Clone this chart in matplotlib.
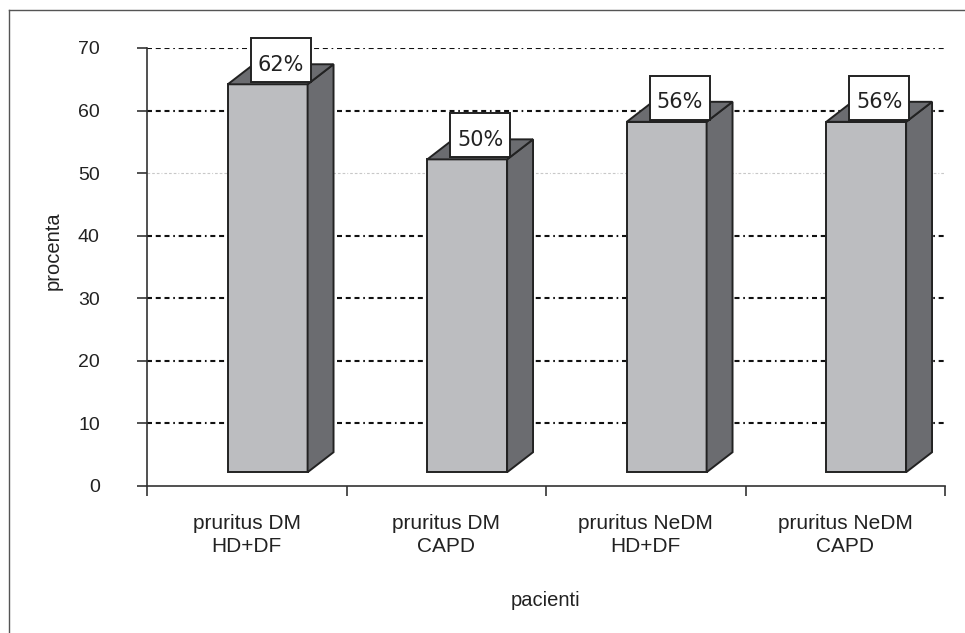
import matplotlib
matplotlib.use("Agg")
import matplotlib.pyplot as plt
import matplotlib.transforms as mtransforms
from matplotlib.patches import Polygon, Rectangle
from matplotlib.lines import Line2D

plt.rcParams['font.family'] = ['Liberation Sans', 'DejaVu Sans']

categories = ["pruritus DM\nHD+DF", "pruritus DM\nCAPD", "pruritus NeDM\nHD+DF", "pruritus NeDM\nCAPD"]
values = [62, 50, 56, 56]
labels = ["62%", "50%", "56%", "56%"]
yticks = [0, 10, 20, 30, 40, 50, 60, 70]

W, H = 965, 633
fig = plt.figure(figsize=(W / 100, H / 100), dpi=100)
ax = fig.add_axes([147 / W, 1 - 486 / H, (945 - 147) / W, (486 - 48) / H])
ax.set_xlim(-0.5, len(categories) - 0.5)
ax.set_ylim(0, 70)

front_col = "#bcbdc0"
side_col = "#6b6c70"
edge = "#222222"

# gridlines
dash = (0, (2.4, 1.8, 2.4, 1.8, 2.4, 1.8, 0.8, 1.8))
for t in yticks[1:]:
    col = "#c8c8c8" if t == 50 else "#111111"
    lw = 0.8 if t == 50 else 1.5
    ax.plot([-0.5, len(categories) - 0.5], [t, t], color=col, lw=lw,
            linestyle=dash, zorder=1, solid_capstyle='butt', dash_capstyle='butt')

base = 2.2
bw = 0.4
shift = 0.105
dx = 0.13
dy = 3.2
for i, v in enumerate(values):
    x0 = i + shift - bw / 2
    x1 = x0 + bw
    top = base + v
    ax.bar(i + shift, v, width=bw, bottom=base, color=front_col,
           edgecolor=edge, linewidth=1.4, zorder=3)
    side = Polygon([(x1, base), (x1 + dx, base + dy), (x1 + dx, top + dy), (x1, top)],
                   closed=True, facecolor=side_col, edgecolor=edge, linewidth=1.4, zorder=3)
    topf = Polygon([(x0, top), (x0 + dx, top + dy), (x1 + dx, top + dy), (x1, top)],
                   closed=True, facecolor=side_col, edgecolor=edge, linewidth=1.4, zorder=3)
    ax.add_patch(side)
    ax.add_patch(topf)
    # label box anchored at the bar top, sized in pixels
    xc = i + shift + dx / 2
    anchor = mtransforms.ScaledTranslation(xc, top, ax.transData)
    tr = mtransforms.IdentityTransform() + anchor
    box = Rectangle((-30, 2), 60, 44, transform=tr, facecolor='white',
                    edgecolor=edge, linewidth=1.4, zorder=5, clip_on=False)
    ax.add_patch(box)
    ax.annotate(labels[i], xy=(xc, top), xytext=(0, 19.5),
                textcoords='offset pixels', ha='center', va='center',
                fontsize=15, family=['DejaVu Sans'], color='#222222', zorder=6)

for s in ['top', 'right']:
    ax.spines[s].set_visible(False)
for s in ['left', 'bottom']:
    ax.spines[s].set_color('#333333')
    ax.spines[s].set_linewidth(1.2)

ax.set_yticks(yticks)
ax.set_yticklabels([str(t) for t in yticks], fontsize=14, color='#222222')
ax.tick_params(axis='y', length=7, width=1.2, color='#333333', pad=27)

ax.set_xticks([i - 0.5 for i in range(len(categories) + 1)])
ax.set_xticklabels([])
ax.tick_params(axis='x', which='major', length=7, width=1.2, color='#333333')
ax.set_xticks(range(len(categories)), minor=True)
ax.set_xticklabels(categories, minor=True, fontsize=15, color='#222222',
                   linespacing=1.3)
ax.tick_params(axis='x', which='minor', length=0, pad=20)

fig.text(546 / W, 1 - 600 / H, "pacienti", ha='center', va='center',
         fontsize=14.5, color='#222222')
fig.text(53 / W, 1 - 251 / H, "procenta", ha='center', va='center',
         rotation=90, fontsize=14.5, color='#222222')

# outer frame lines (top and left)
fig.add_artist(Line2D([9 / W, 1], [1 - 10 / H, 1 - 10 / H], color='#555555', lw=1.0))
fig.add_artist(Line2D([9 / W, 9 / W], [0, 1 - 10 / H], color='#555555', lw=1.0))

fig.savefig("out.png", dpi=100)
